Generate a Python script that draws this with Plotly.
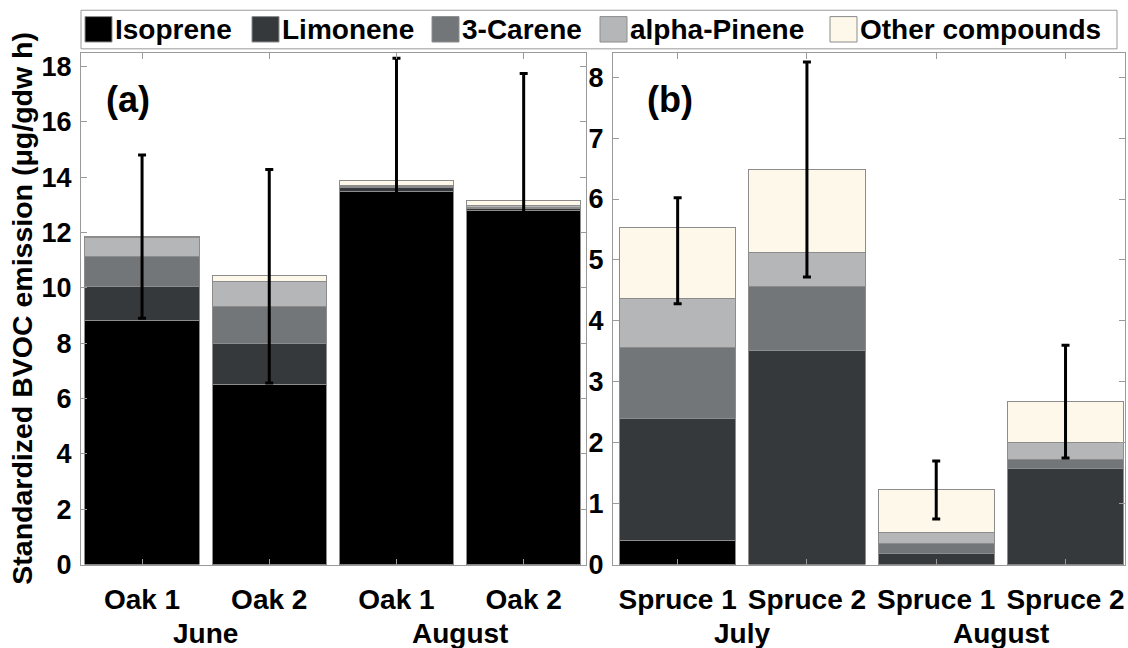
import plotly.graph_objects as go

# ---------------- data ----------------
compounds = ["Isoprene", "Limonene", "3-Carene", "alpha-Pinene", "Other compounds"]
colors = ["#000000", "#36393b", "#727678", "#b4b6b8", "#fdf8ea"]

trees_a = ["Oak 1", "Oak 2", "Oak 1", "Oak 2"]
months_a = ["June", "August"]
isoprene_a = [8.82, 6.51, 13.50, 12.80]
limonene_a = [1.24, 1.47, 0.12, 0.08]
carene_a = [1.08, 1.35, 0.04, 0.04]
pinene_a = [0.68, 0.92, 0.06, 0.07]
other_a = [0.03, 0.20, 0.16, 0.17]
err_plus_a = [2.95, 3.83, 4.42, 4.59]
err_minus_a = [2.95, 3.89, 4.42, 4.59]

trees_b = ["Spruce 1", "Spruce 2", "Spruce 1", "Spruce 2"]
months_b = ["July", "August"]
isoprene_b = [0.40, 0.00, 0.01, 0.00]
limonene_b = [2.00, 3.52, 0.18, 1.58]
carene_b = [1.17, 1.05, 0.16, 0.15]
pinene_b = [0.79, 0.55, 0.17, 0.28]
other_b = [1.17, 1.36, 0.71, 0.67]
err_plus_b = [0.49, 1.77, 0.47, 0.92]
err_minus_b = [1.25, 1.76, 0.48, 0.93]

yticks_a = [0, 2, 4, 6, 8, 10, 12, 14, 16, 18]
yticks_b = [0, 1, 2, 3, 4, 5, 6, 7, 8]
y_title = "Standardized BVOC emission (μg/gdw h)"

# ---------------- figure ----------------
W, H = 1128, 648
FONT = "Liberation Sans"
AX = "#9a9a9a"

def px_x(x):
    return x / W

def px_y(y):
    return (H - y) / H

fig = go.Figure()
pos = list(range(4))

panels = [
    ("x", "y", [isoprene_a, limonene_a, carene_a, pinene_a, other_a], err_plus_a, err_minus_a),
    ("x2", "y2", [isoprene_b, limonene_b, carene_b, pinene_b, other_b], err_plus_b, err_minus_b),
]
for xa, ya, series, ep, em in panels:
    for name, col, vals in zip(compounds, colors, series):
        fig.add_trace(go.Bar(
            x=pos, y=vals, name=name, xaxis=xa, yaxis=ya,
            marker=dict(color=col, line=dict(color="#8c8c8c", width=1)),
            showlegend=False, hoverinfo="skip",
        ))
    totals = [sum(v) for v in zip(*series)]
    fig.add_trace(go.Scatter(
        x=pos, y=totals, xaxis=xa, yaxis=ya, mode="markers",
        marker=dict(size=1, opacity=0), showlegend=False, hoverinfo="skip",
        error_y=dict(type="data", symmetric=False, array=ep, arrayminus=em,
                     color="black", thickness=3, width=4),
    ))

xtickfont = dict(family=FONT, size=28, color="black", weight="bold")
ytickfont = dict(family=FONT, size=27, color="black", weight="bold")
common_x = dict(showline=True, linecolor=AX, linewidth=1, mirror="ticks",
                ticks="inside", ticklen=6, tickcolor=AX, tickwidth=1,
                showgrid=False, zeroline=False, tickfont=xtickfont,
                tickvals=pos, ticklabelstandoff=10)
common_y = dict(showline=True, linecolor=AX, linewidth=1, mirror="ticks",
                ticks="inside", ticklen=6, tickcolor=AX, tickwidth=1,
                showgrid=False, zeroline=False, tickfont=ytickfont,
                ticklabelstandoff=3)

y0, y1 = px_y(578), px_y(54)
fig.update_layout(
    width=W, height=H,
    margin=dict(l=0, r=0, t=0, b=0),
    paper_bgcolor="white", plot_bgcolor="white",
    barmode="stack", bargap=0.1,
    xaxis=dict(domain=[px_x(81), px_x(586)], range=[-0.48, 3.49],
               ticktext=trees_a, anchor="y", **common_x),
    yaxis=dict(domain=[y0, y1], range=[0, 18.5], tickvals=yticks_a,
               anchor="x", **common_y),
    xaxis2=dict(domain=[px_x(613), px_x(1125)], range=[-0.5, 3.46],
                ticktext=trees_b, anchor="y2", **common_x),
    yaxis2=dict(domain=[y0, y1], range=[0, 8.4], tickvals=yticks_b,
                anchor="x2", **common_y),
    showlegend=False,
)

ann = []
shapes = []
# month labels, centred between the two bars of each month
for xref, months in (("x", months_a), ("x2", months_b)):
    for i, m in enumerate(months):
        ann.append(dict(x=2 * i + 0.5, xref=xref, y=px_y(648), yref="paper",
                        text=m, showarrow=False, xanchor="center", yanchor="middle",
                        borderpad=0,
                        font=dict(family=FONT, size=28, color="black", weight="bold")))
# panel labels
ann.append(dict(x=px_x(128), y=px_y(102), xref="paper", yref="paper", text="(a)",
                showarrow=False, xanchor="center", yanchor="middle",
                font=dict(family=FONT, size=36, color="black", weight="bold")))
ann.append(dict(x=px_x(670), y=px_y(102), xref="paper", yref="paper", text="(b)",
                showarrow=False, xanchor="center", yanchor="middle",
                font=dict(family=FONT, size=36, color="black", weight="bold")))
# y-axis title
ann.append(dict(x=px_x(22), y=(y0 + y1) / 2, xref="paper", yref="paper", text=y_title,
                textangle=-90, showarrow=False, xanchor="center", yanchor="middle",
                font=dict(family=FONT, size=28.5, color="black", weight="bold")))

# legend (box, swatches, labels)
shapes.append(dict(type="rect", xref="paper", yref="paper",
                   x0=px_x(81), x1=px_x(1117), y0=px_y(50), y1=px_y(10.5),
                   line=dict(color=AX, width=1), fillcolor="white"))
leg_x = [85, 252, 432, 600, 830]
for lx, name, col in zip(leg_x, compounds, colors):
    shapes.append(dict(type="rect", xref="paper", yref="paper",
                       x0=px_x(lx), x1=px_x(lx + 27), y0=px_y(43), y1=px_y(17),
                       line=dict(color="#8c8c8c", width=1), fillcolor=col))
    ann.append(dict(x=px_x(lx + 28), y=px_y(30), xref="paper", yref="paper",
                    text=name, showarrow=False, xanchor="left", yanchor="middle",
                    font=dict(family=FONT, size=28, color="black", weight="bold")))

fig.update_layout(annotations=ann, shapes=shapes)
fig.write_html("out.html")
